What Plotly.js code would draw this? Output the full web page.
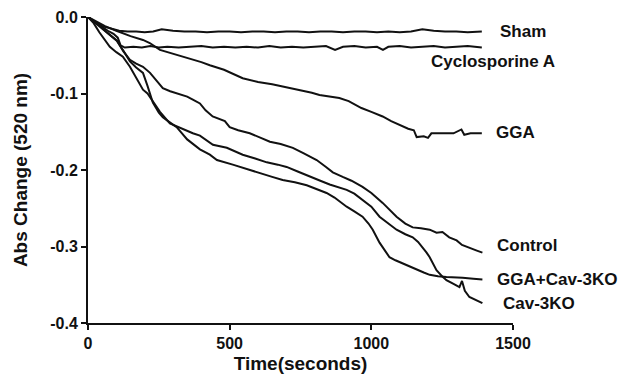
<!DOCTYPE html>
<html>
<head>
<meta charset="utf-8">
<script src="https://cdn.plot.ly/plotly-3.0.1.min.js"></script>
<style>html,body{margin:0;padding:0;background:#fff;}#chart{width:625px;height:378px;}</style>
</head>
<body>
<div id="chart"></div>
<script>
// ---- data ----
const shamT = [0,15,30,50,70,90,110,140,170,200,230,260,300,340,380,420,460,500,540,580,620,660,700,740,780,820,860,900,940,980,1020,1060,1100,1140,1180,1220,1260,1300,1340,1390];
const shamV = [0,-0.004,-0.008,-0.012,-0.014,-0.016,-0.018,-0.019,-0.019,-0.020,-0.019,-0.016,-0.018,-0.019,-0.019,-0.020,-0.019,-0.019,-0.020,-0.019,-0.019,-0.020,-0.019,-0.019,-0.020,-0.019,-0.019,-0.020,-0.019,-0.019,-0.020,-0.019,-0.020,-0.019,-0.016,-0.018,-0.019,-0.019,-0.020,-0.019];

const cycloT = [0,15,30,50,70,90,105,115,130,160,190,220,250,280,320,360,400,440,480,520,560,600,640,680,720,760,800,840,872,900,940,980,1020,1041,1060,1100,1140,1180,1220,1260,1300,1340,1390];
const cycloV = [0,-0.004,-0.008,-0.013,-0.018,-0.022,-0.027,-0.037,-0.040,-0.039,-0.040,-0.038,-0.040,-0.039,-0.040,-0.039,-0.038,-0.040,-0.039,-0.040,-0.039,-0.040,-0.038,-0.040,-0.039,-0.040,-0.039,-0.038,-0.043,-0.039,-0.038,-0.040,-0.039,-0.043,-0.039,-0.038,-0.040,-0.039,-0.038,-0.040,-0.039,-0.038,-0.040];

const ggaT = [0,30,60,100,150,194,218,254,300,350,400,430,480,546,600,650,700,746,790,817,850,887,920,965,1000,1040,1070,1099,1130,1150,1160,1185,1200,1212,1250,1290,1318,1328,1350,1390];
const ggaV = [0,-0.006,-0.012,-0.018,-0.025,-0.030,-0.034,-0.043,-0.048,-0.053,-0.059,-0.063,-0.069,-0.080,-0.085,-0.088,-0.092,-0.095,-0.099,-0.102,-0.104,-0.106,-0.110,-0.119,-0.124,-0.130,-0.136,-0.141,-0.146,-0.148,-0.157,-0.156,-0.158,-0.152,-0.152,-0.152,-0.147,-0.154,-0.152,-0.152];

const controlT = [0,20,40,60,80,102,125,148,170,194,219,240,264,290,320,350,370,395,415,440,483,500,530,571,610,642,680,723,760,807,840,864,899,930,969,1000,1040,1065,1089,1120,1146,1175,1206,1230,1251,1275,1301,1320,1346,1370,1392];
const controlV = [0,-0.006,-0.012,-0.019,-0.025,-0.031,-0.045,-0.056,-0.061,-0.065,-0.073,-0.083,-0.093,-0.097,-0.101,-0.104,-0.108,-0.113,-0.122,-0.130,-0.136,-0.144,-0.148,-0.152,-0.158,-0.163,-0.166,-0.171,-0.178,-0.187,-0.196,-0.203,-0.209,-0.214,-0.222,-0.230,-0.243,-0.252,-0.261,-0.270,-0.275,-0.276,-0.278,-0.282,-0.281,-0.288,-0.292,-0.298,-0.302,-0.305,-0.308];

const cavT = [0,20,40,60,77,100,123,148,170,194,210,229,254,289,330,370,395,441,490,546,590,631,670,701,740,783,820,853,880,913,940,969,1000,1029,1060,1089,1120,1146,1165,1181,1195,1206,1218,1230,1250,1265,1290,1311,1320,1330,1346,1370,1392];
const cavV = [0,-0.008,-0.020,-0.030,-0.039,-0.046,-0.052,-0.065,-0.080,-0.095,-0.100,-0.110,-0.124,-0.139,-0.146,-0.152,-0.155,-0.167,-0.171,-0.180,-0.185,-0.190,-0.193,-0.196,-0.202,-0.209,-0.214,-0.219,-0.222,-0.226,-0.231,-0.239,-0.248,-0.261,-0.270,-0.278,-0.284,-0.288,-0.294,-0.301,-0.308,-0.314,-0.322,-0.331,-0.339,-0.344,-0.349,-0.353,-0.345,-0.358,-0.366,-0.370,-0.374];

const ggaCavT = [0,20,40,60,80,102,125,148,170,194,210,229,250,264,290,313,350,395,430,455,511,560,606,650,687,730,772,810,842,870,913,940,969,990,1005,1029,1045,1064,1085,1110,1135,1160,1185,1206,1235,1265,1295,1322,1360,1392];
const ggaCavV = [0,-0.005,-0.011,-0.018,-0.024,-0.031,-0.044,-0.058,-0.066,-0.073,-0.090,-0.112,-0.125,-0.131,-0.138,-0.144,-0.160,-0.173,-0.180,-0.187,-0.193,-0.199,-0.204,-0.209,-0.213,-0.216,-0.220,-0.225,-0.230,-0.236,-0.248,-0.254,-0.261,-0.270,-0.278,-0.295,-0.304,-0.314,-0.318,-0.322,-0.327,-0.331,-0.334,-0.337,-0.339,-0.340,-0.341,-0.341,-0.342,-0.343];

const seriesNames = ["Sham","Cyclosporine A","GGA","Control","GGA+Cav-3KO","Cav-3KO"];
const xTickVals = [0,500,1000,1500];
const xTickText = ["0","500","1000","1500"];
const yTickVals = [0,-0.1,-0.2,-0.3,-0.4];
const yTickText = ["0.0","-0.1","-0.2","-0.3","-0.4"];

// ---- chart ----
const FONT = "Liberation Sans, Arial, Helvetica, sans-serif";
const xs = [shamT, cycloT, ggaT, controlT, ggaCavT, cavT];
const ys = [shamV, cycloV, ggaV, controlV, ggaCavV, cavV];
const traces = xs.map((x, i) => ({
  x: x, y: ys[i], name: seriesNames[i], type: "scatter", mode: "lines",
  line: {color: "#111", width: 2}, hoverinfo: "skip"
}));

// label placement (layout only)
const labelPos = [
  {x: 1447, y: -0.0183},
  {x: 1202, y: -0.0588},
  {x: 1433, y: -0.1516},
  {x: 1435, y: -0.2993},
  {x: 1435, y: -0.3425},
  {x: 1456, y: -0.375}
];
const annotations = seriesNames.map((n, i) => ({
  x: labelPos[i].x, y: labelPos[i].y, xref: "x", yref: "y",
  text: n, showarrow: false, xanchor: "left", yanchor: "middle",
  font: {family: FONT, size: 17, color: "#111", weight: "bold"}
}));

const layout = {
  width: 625, height: 378,
  margin: {l: 88, r: 112, t: 17, b: 55, pad: 0},
  paper_bgcolor: "#fff", plot_bgcolor: "#fff",
  showlegend: false,
  font: {family: FONT, color: "#111"},
  xaxis: {
    range: [0, 1500], tickvals: xTickVals, ticktext: xTickText,
    showgrid: false, zeroline: false, showline: true, linecolor: "#111", linewidth: 2,
    ticks: "outside", ticklen: 5, tickwidth: 2, tickcolor: "#111",
    tickfont: {family: FONT, size: 16, color: "#111", weight: "bold"},
    title: {text: "Time(seconds)", standoff: 5, font: {family: FONT, size: 19, color: "#111", weight: "bold"}},
    fixedrange: true
  },
  yaxis: {
    range: [-0.4, 0], tickvals: yTickVals, ticktext: yTickText,
    showgrid: false, zeroline: false, showline: true, linecolor: "#111", linewidth: 2,
    ticks: "outside", ticklen: 5, tickwidth: 2, tickcolor: "#111",
    tickfont: {family: FONT, size: 16, color: "#111", weight: "bold"},
    title: {text: "Abs Change (520 nm)", standoff: 18, font: {family: FONT, size: 19, color: "#111", weight: "bold"}},
    fixedrange: true
  },
  annotations: annotations
};

Plotly.newPlot("chart", traces, layout, {displayModeBar: false, staticPlot: true});
</script>
</body>
</html>
